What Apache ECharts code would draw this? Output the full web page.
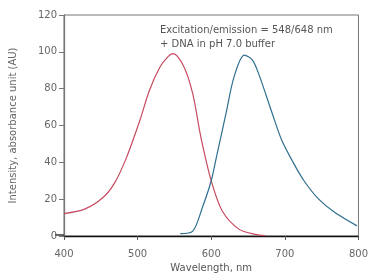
<!DOCTYPE html>
<html><head><meta charset="utf-8">
<script src="https://cdn.jsdelivr.net/npm/echarts@6/dist/echarts.min.js"></script>
<style>html,body{margin:0;padding:0;background:#fff}#c{width:371px;height:280px}</style>
</head><body><div id="c"></div>
<script>
var xTicks = [400, 500, 600, 700, 800];
var yTicks = [0, 20, 40, 60, 80, 100, 120];
var excitationX = [400, 428, 453, 469, 485, 503, 516, 530, 541, 548, 563, 575, 586, 600, 615, 638, 660, 673];
var excitationY = [12.2, 14.6, 20.9, 29, 42.7, 62.7, 79, 91.5, 97.3, 99, 91.8, 77, 53.6, 30, 13.6, 3.6, 0.9, 0.2];
var emissionX = [558, 575, 588, 600, 608, 620, 631, 645, 656, 665, 683, 696, 710, 726, 746, 768, 798];
var emissionY = [1.3, 2.7, 15.5, 30, 44.6, 66.4, 86.4, 98.2, 95.5, 87.5, 66.4, 51.8, 40.9, 30, 20, 12.7, 5.5];
var annotation = ["Excitation/emission = 548/648 nm", "+ DNA in pH 7.0 buffer"];
var xTitle = "Wavelength, nm";
var yTitle = "Intensity, absorbance unit (AU)";

function pairs(xs, ys){ return xs.map(function(x,i){return [x, ys[i]];}); }
var chart = echarts.init(document.getElementById('c'), null, {renderer:'canvas'});
var font = 'DejaVu Sans, sans-serif';
chart.setOption({
  animation:false,
  grid:{left:64, right:11, top:15, bottom:44, show:true, borderColor:'#777', borderWidth:1},
  xAxis:{type:'value', min:xTicks[0], max:xTicks[xTicks.length-1], interval:100,
    name:xTitle, nameLocation:'middle', nameGap:23,
    nameTextStyle:{color:'#555', fontSize:10, fontFamily:font},
    axisLine:{show:true, onZero:false, lineStyle:{color:'#111', width:1.3}},
    axisTick:{show:true, length:4, lineStyle:{color:'#555'}},
    axisLabel:{color:'#666', fontSize:10, fontFamily:font, margin:13},
    splitLine:{show:false}},
  yAxis:{type:'value', min:yTicks[0], max:yTicks[yTicks.length-1], interval:20,
    name:yTitle, nameLocation:'middle', nameGap:46,
    nameTextStyle:{color:'#666', fontSize:10, fontFamily:font},
    axisLine:{show:true, lineStyle:{color:'#777', width:1.3}},
    axisTick:{show:true, length:5, lineStyle:{color:'#777'}},
    axisLabel:{color:'#666', fontSize:10, fontFamily:font, margin:7},
    splitLine:{show:false}},
  graphic:[
    {type:'line', shape:{x1:55, y1:235, x2:64, y2:235}, style:{stroke:'#111', lineWidth:1.3}},
    {type:'text', left:160, top:25, style:{text:annotation[0], fill:'#555', font:'10px '+font}},
    {type:'text', left:160, top:39, style:{text:annotation[1], fill:'#555', font:'10px '+font}}
  ],
  series:[
    {type:'line', data:pairs(excitationX, excitationY), smooth:0.3, showSymbol:false,
     lineStyle:{color:'#c84a60', width:1.2}},
    {type:'line', data:pairs(emissionX, emissionY), smooth:0.3, showSymbol:false,
     lineStyle:{color:'#2f6f8f', width:1.2}}
  ]
});
</script></body></html>
